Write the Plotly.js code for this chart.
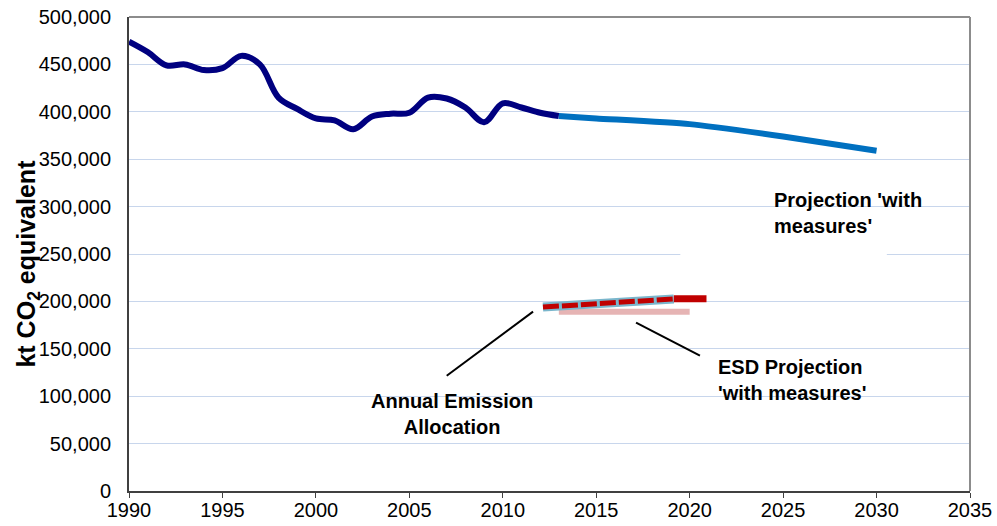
<!DOCTYPE html>
<html>
<head>
<meta charset="utf-8">
<script src="https://cdn.plot.ly/plotly-3.0.1.min.js"></script>
<style>html,body{margin:0;padding:0;background:#fff;}#chart{width:997px;height:526px;}</style>
</head>
<body>
<div id="chart"></div>
<script>
// Historical emissions (kt CO2 eq)
const histYears = [1990,1991,1992,1993,1994,1995,1996,1997,1998,1999,2000,2001,2002,2003,2004,2005,2006,2007,2008,2009,2010,2011,2012,2013];
const histValues = [474000,463000,449000,450000,444000,446000,459000,450000,415000,403000,393000,391000,381500,395000,398000,399000,415000,414000,404500,389000,409000,404500,399000,395500];

// Projection 'with measures'
const projYears = [2013,2015,2020,2025,2030];
const projValues = [395500,393000,387000,374000,359000];

// Annual Emission Allocation (ESD)
const aeaYears = [2013,2014,2015,2016,2017,2018,2019,2020];
const aeaValues = [194000,195200,196400,197700,198900,200200,201400,202600];
const aeaTailYears = [2020,2021.75];
const aeaTailValues = [202800,202800];

// ESD projection 'with measures'
const esdYears = [2013,2014,2015,2016,2017,2018,2019,2020];
const esdValues = [189000,189000,189000,189000,189000,189000,189000,189000];

const FONT = 'Liberation Sans, Arial, sans-serif';

const traces = [
  {x: histYears, y: histValues, mode:'lines', line:{color:'#000080', width:6, shape:'spline', smoothing:1}, hoverinfo:'skip'},
  {x: projYears, y: projValues, mode:'lines', line:{color:'#0070C0', width:6, shape:'spline', smoothing:0.6}, hoverinfo:'skip'},
  {x: esdYears, y: esdValues, mode:'lines', line:{color:'#E6B4B4', width:6}, hoverinfo:'skip'},
  {x: aeaYears, y: aeaValues, xaxis:'x2', mode:'lines', line:{color:'#7AB6CC', width:9}, hoverinfo:'skip'},
  {x: aeaYears, y: aeaValues, xaxis:'x2', mode:'lines', line:{color:'#C00000', width:5, dash:'16px,3px'}, hoverinfo:'skip'},
  {x: aeaTailYears, y: aeaTailValues, xaxis:'x2', mode:'lines', line:{color:'#C00000', width:7}, hoverinfo:'skip'}
];

const layout = {
  width: 997, height: 526,
  margin: {l:129, r:27, t:17, b:35},
  paper_bgcolor:'#ffffff', plot_bgcolor:'#ffffff',
  showlegend:false,
  font:{family:FONT, size:20, color:'#000'},
  xaxis:{
    range:[1990,2035], tick0:1990, dtick:5, showgrid:false, zeroline:false,
    showline:true, linecolor:'#404040', linewidth:2,
    ticks:'outside', ticklen:5, tickcolor:'#404040', tickwidth:1,
    tickfont:{family:FONT, size:20, color:'#000'}, ticklabelstandoff:-5
  },
  xaxis2:{range:[1990.85,2035.85], overlaying:'x', visible:false},
  yaxis:{
    range:[0,500000], dtick:50000, tickformat:',d',
    showgrid:true, gridcolor:'#C8D6EC', gridwidth:1, zeroline:false,
    showline:true, linecolor:'#404040', linewidth:2, ticks:'',
    tickfont:{family:FONT, size:20, color:'#000'}, ticklabelstandoff:12
  },
  shapes:[
    {type:'line', xref:'paper', yref:'paper', x0:0, x1:1, y0:1, y1:1, line:{color:'#8C8C8C', width:2}},
    {type:'line', xref:'paper', yref:'paper', x0:1, x1:1, y0:0, y1:1, line:{color:'#8C8C8C', width:2}},
    {type:'rect', xref:'x', yref:'y', x0:2019.5, x1:2030.55, y0:240000, y1:262000, fillcolor:'#ffffff', line:{width:0}, layer:'between'},
    {type:'line', xref:'x', yref:'y', x0:2017.13, y0:177600, x1:2020.55, y1:142700, line:{color:'#000', width:2}},
    {type:'line', xref:'x', yref:'y', x0:2011.62, y0:189200, x1:2007.0, y1:121600, line:{color:'#000', width:2}}
  ],
  annotations:[
    {xref:'paper', yref:'paper', x:-0.12, y:0.48, xanchor:'center', yanchor:'middle', textangle:-90,
     text:'<b>kt CO<sub>2</sub> equivalent</b>', showarrow:false, font:{family:FONT, size:25, color:'#000'}},
    {xref:'x', yref:'y', x:2024.4, y:321000, xanchor:'left', yanchor:'top', align:'left', showarrow:false,
     text:"<b>Projection 'with<br>measures'</b>", font:{family:FONT, size:20, color:'#000'}},
    {xref:'x', yref:'y', x:2021.4, y:144000, xanchor:'left', yanchor:'top', align:'left', showarrow:false,
     text:"<b>ESD Projection<br>'with measures'</b>", font:{family:FONT, size:20, color:'#000'}},
    {xref:'x', yref:'y', x:2007.28, y:109000, xanchor:'center', yanchor:'top', align:'center', showarrow:false,
     text:"<b>Annual Emission<br>Allocation</b>", font:{family:FONT, size:20, color:'#000'}}
  ]
};

Plotly.newPlot('chart', traces, layout, {displayModeBar:false, staticPlot:true});
</script>
</body>
</html>
